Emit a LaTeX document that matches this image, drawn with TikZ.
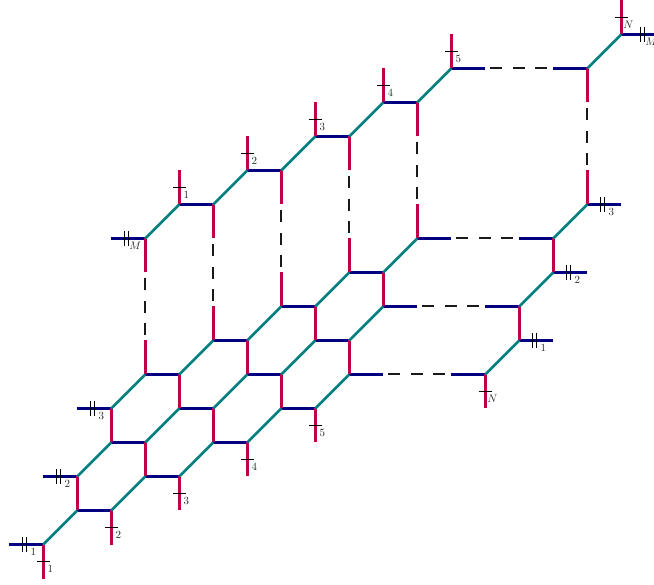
\documentclass[tikz,border=0pt]{standalone}
\usetikzlibrary{calc}
\tikzset{
  navyline/.style={draw={rgb,255:red,0;green,0;blue,128},line width=2.9pt},
  tealline/.style={draw={rgb,255:red,0;green,128;blue,128},line width=2.8pt},
  redline/.style={draw={rgb,255:red,192;green,0;blue,72},line width=2.9pt},
  dashline/.style={draw=black!90,line width=2pt,dash pattern=on 12pt off 10.5pt,shorten <=5pt},
  tickline/.style={draw=black,line width=0.7pt},
  leglabel/.style={inner sep=0pt,font=\fontsize{10.5}{12}\selectfont,text=black!85}
}
\newcommand{\tickv}[3]{%
  \coordinate (t#2) at ($(#1)!0.5!(#2)$);
  \draw[tickline] ([xshift=-6.5pt]t#2) -- ([xshift=6.5pt]t#2);
  \node[leglabel] (lab#2) at ([xshift=7pt,yshift=-7.5pt]t#2) {$#3$};
}
\newcommand{\tickh}[3]{%
  \coordinate (t#2) at ($(#1)!0.5!(#2)$);
  \draw[tickline] ([xshift=-3.5pt,yshift=7.5pt]t#2) -- ([xshift=-3.5pt,yshift=-7.5pt]t#2);
  \draw[tickline] ([xshift=0.5pt,yshift=7.5pt]t#2) -- ([xshift=0.5pt,yshift=-7.5pt]t#2);
  \node[leglabel] (lab#2) at ([xshift=7pt,yshift=-7.5pt]t#2) {$#3$};
}
\begin{document}
\begin{tikzpicture}[x=1pt,y=-1pt]
\useasboundingbox (0,0) rectangle (654,585);
\begin{scope}[shift={(0.25,0.5)}]
\foreach \n/\x/\y in {
 a0/43/544,a1/77/510,a2/111/510,a3/145/476,a4/179/476,a5/213/442,a6/247/442,a7/281/408,a8/315/408,a9/349/374,a10/383/374,a11/451/374,a12/485/374,a13/519/340,
 b1/77/476,b2/111/442,b3/145/442,b4/179/408,b5/213/408,b6/247/374,b7/281/374,b8/315/340,b9/349/340,b10/383/306,b11/417/306,b12/485/306,b13/519/306,b14/553/272,
 c1/111/408,c2/145/374,c3/179/374,c4/213/340,c5/247/340,c6/281/306,c7/315/306,c8/349/272,c9/383/272,c10/417/238,c11/451/238,c12/519/238,c13/553/238,c14/587/204,
 d1/145/238,d2/179/204,d3/213/204,d4/247/170,d5/281/170,d6/315/136,d7/349/136,d8/383/102,d9/417/102,d10/451/68,d11/485/68,d12/553/68,d13/587/68,d14/621/34,
 l1/9/544,l2/43/476,l3/77/408,lM/111/238,r1/553/340,r2/587/272,r3/621/204,rM/655/34,rT/667/34,
 s1/43/578,s2/111/544,s3/179/510,s4/247/476,s5/315/442,sN/485/408,
 n1/179/170,n2/247/136,n3/315/102,n4/383/68,n5/451/34,nN/621/0,
 e1/145/340,e2/213/306,e3/281/272,e4/349/238,e5/417/204,e6/587/170,
 f1/145/272,f2/213/238,f3/281/204,f4/349/170,f5/417/136,f6/587/102}
 {\coordinate (\n) at (\x,\y);}
% dashed
\foreach \p/\q in {a10/a11,b11/b12,c11/c12,d11/d12,e1/f1,e2/f2,e3/f3,e4/f4,e5/f5,e6/f6}
  \draw[dashline] (\p) -- (\q);
% navy
\foreach \p/\q in {l1/a0,a1/a2,a3/a4,a5/a6,a7/a8,a9/a10,a11/a12,a13/r1,
  l2/b1,b2/b3,b4/b5,b6/b7,b8/b9,b10/b11,b12/b13,b14/r2,
  l3/c1,c2/c3,c4/c5,c6/c7,c8/c9,c10/c11,c12/c13,c14/r3,
  lM/d1,d2/d3,d4/d5,d6/d7,d8/d9,d10/d11,d12/d13,d14/rM}
  \draw[navyline] (\p) -- (\q);
% red
\foreach \p/\q in {a0/s1,a2/s2,a4/s3,a6/s4,a8/s5,a12/sN,
  a1/b1,a3/b3,a5/b5,a7/b7,a9/b9,a13/b13,
  b2/c1,b4/c3,b6/c5,b8/c7,b10/c9,b14/c13,
  c2/e1,c4/e2,c6/e3,c8/e4,c10/e5,c14/e6,
  f1/d1,f2/d3,f3/d5,f4/d7,f5/d9,f6/d13,
  d2/n1,d4/n2,d6/n3,d8/n4,d10/n5,d14/nN}
  \draw[redline] (\p) -- (\q);
% teal
\foreach \p/\q in {a0/a1,a2/a3,a4/a5,a6/a7,a8/a9,a12/a13,
  b1/b2,b3/b4,b5/b6,b7/b8,b9/b10,b13/b14,
  c1/c2,c3/c4,c5/c6,c7/c8,c9/c10,c13/c14,
  d1/d2,d3/d4,d5/d6,d7/d8,d9/d10,d13/d14}
  \draw[tealline] (\p) -- (\q);
% ticks and labels on the external legs
\tickv{a0}{s1}{1}
\tickv{a2}{s2}{2}
\tickv{a4}{s3}{3}
\tickv{a6}{s4}{4}
\tickv{a8}{s5}{5}
\tickv{a12}{sN}{N}
\tickv{d2}{n1}{1}
\tickv{d4}{n2}{2}
\tickv{d6}{n3}{3}
\tickv{d8}{n4}{4}
\tickv{d10}{n5}{5}
\tickv{d14}{nN}{N}
\tickh{a0}{l1}{1}
\tickh{b1}{l2}{2}
\tickh{c1}{l3}{3}
\tickh{d1}{lM}{M}
\tickh{a13}{r1}{1}
\tickh{b14}{r2}{2}
\tickh{c14}{r3}{3}
\tickh{d14}{rT}{M}
\end{scope}
\end{tikzpicture}
\end{document}
